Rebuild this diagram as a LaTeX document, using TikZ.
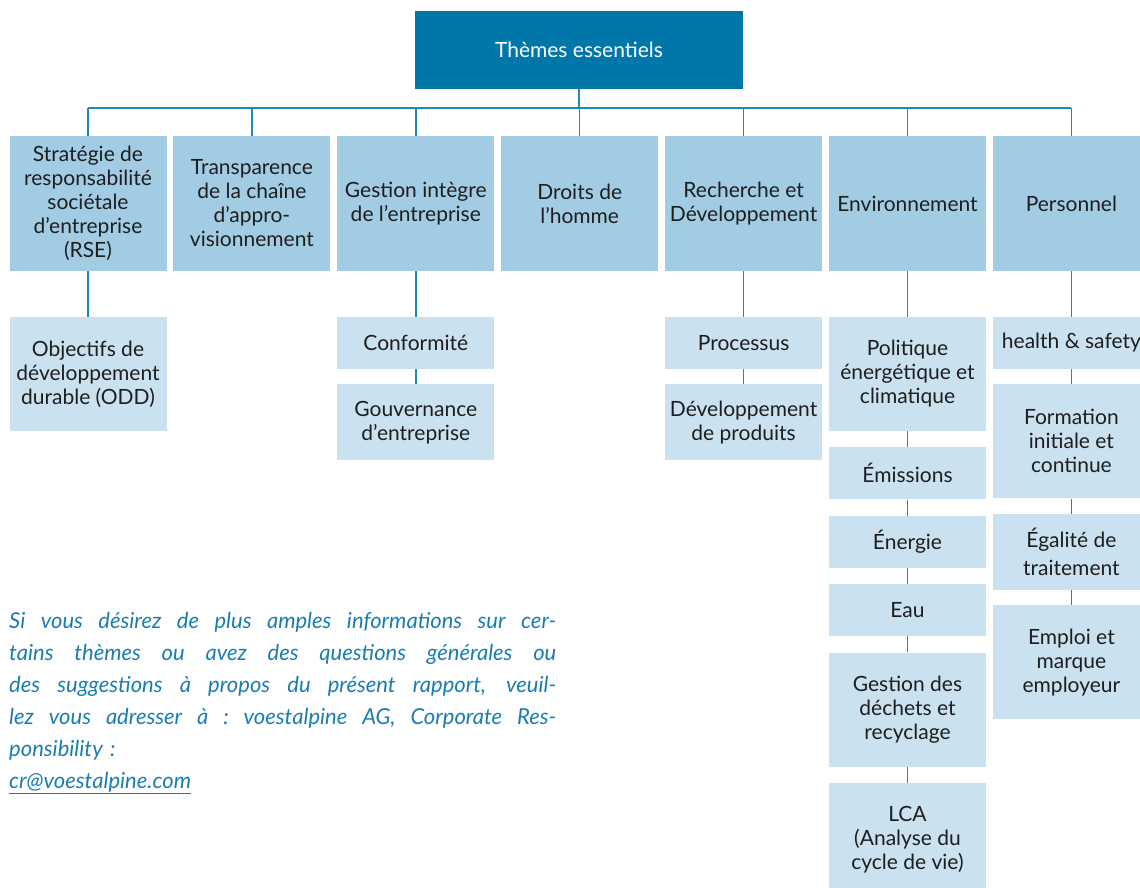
\documentclass[tikz,border=0pt]{standalone}
\usepackage{fontspec}
\setmainfont{Lato}
\usetikzlibrary{positioning}

\definecolor{vaBlue}{HTML}{0077A8}
\definecolor{vaTier}{HTML}{A2CCE3}
\definecolor{vaSub}{HTML}{CAE1EF}
\definecolor{vaLine}{HTML}{1F88C0}
\definecolor{vaText}{HTML}{1E1E1E}
\definecolor{vaNote}{HTML}{1A7DB0}

% one justified line of the contact note
\newcommand{\noteline}[1]{\makebox[547pt][s]{\spaceskip=.25em plus 1fil\xspaceskip=.25em plus 1fil\relax #1}}

\tikzset{
  box/.style = {inner sep=0pt, minimum width=157pt, align=center, text=vaText,
      font=\fontsize{21}{24}\selectfont},
  tier/.style = {box, fill=vaTier, minimum height=134pt},
  subS/.style = {box, fill=vaSub, minimum height=52pt},
  subM/.style = {box, fill=vaSub, minimum height=76pt},
  subL/.style = {box, fill=vaSub, minimum height=114pt},
  link/.style = {draw=vaLine, line width=1.5pt},
}

\begin{document}
\begin{tikzpicture}[x=1pt, y=1pt, node distance=15pt]
    \useasboundingbox (0,0) rectangle (1140,-888);
    \clip (0,0) rectangle (1140,-888);

    % root
    \node[fill=vaBlue, minimum width=328pt, minimum height=78pt, inner sep=0pt,
        text=white, font=\fontsize{21}{24}\selectfont] (top) at (579,-50) {Thèmes essentiels};

    % first level
    \node[tier] (rse) at (88,-203.5) {Stratégie de\\responsabilité\\sociétale\\d’entreprise\\(RSE)};
    \node[tier, right=6.5pt of rse] (supply) {Transparence\\de la chaîne\\d’appro-\\visionnement};
    \node[tier, right=6.5pt of supply] (gov) {Gestion intègre\\de l’entreprise};
    \node[tier, right=6.5pt of gov] (rights) {Droits de\\l’homme};
    \node[tier, right=6.5pt of rights] (rnd) {Recherche et\\Développement};
    \node[tier, right=6.5pt of rnd] (env) {Environnement};
    \node[tier, right=6.5pt of env] (staff) {Personnel};

    \coordinate (bus) at (0,-108);
    \draw[link] (top.south) -- (top.south |- bus);
    \draw[link] (rse.north |- bus) -- (staff.north |- bus);
    \foreach \n in {rse,supply,gov,rights,rnd,env,staff}
        \draw[link] (\n.north) -- (\n.north |- bus);

    % second level
    \node[subL, below=46pt of rse] (odd) {Objectifs de\\développement\\durable (ODD)};

    \node[subS, below=46pt of gov] (conf) {Conformité};
    \node[subM, below=of conf] (gouv) {Gouvernance\\d’entreprise};

    \node[subS, below=46pt of rnd] (proc) {Processus};
    \node[subM, below=of proc] (prod) {Développement\\de produits};

    \node[subL, below=46pt of env] (clim) {Politique\\énergétique et\\climatique};
    \node[subS, below=16pt of clim] (emis) {Émissions};
    \node[subS, below=16pt of emis] (nrg) {Énergie};
    \node[subS, below=16pt of nrg] (water) {Eau};
    \node[subL, below=16pt of water] (waste) {Gestion des\\déchets et\\recyclage};
    \node[subL, below=16pt of waste] (lca) {LCA\\(Analyse du\\cycle de vie)};

    \node[subS, below=46pt of staff] (hs) {health \& safety};
    \node[subL, below=of hs] (train) {Formation\\initiale et\\continue};
    \node[subM, below=of train] (equal) {Égalité de\\[4pt]traitement};
    \node[subL, below=of equal] (brand) {Emploi et\\marque\\employeur};

    \foreach \a/\b in {rse/odd, gov/conf, conf/gouv, rnd/proc, proc/prod,
        env/clim, clim/emis, emis/nrg, nrg/water, water/waste, waste/lca,
        staff/hs, hs/train, train/equal, equal/brand}
        \draw[link] (\a.south) -- (\b.north);

    % contact note
    \node[anchor=north west, inner sep=0pt, text width=547pt, align=left, text=vaNote,
        font=\fontsize{22}{32}\selectfont\itshape] (note) at (9,-612)
        {\noteline{Si vous désirez de plus amples informations sur cer-}\\
         \noteline{tains thèmes ou avez des questions générales ou}\\
         \noteline{des suggestions à propos du présent rapport, veuil-}\\
         \noteline{lez vous adresser à : voestalpine AG, Corporate Res-}\\
         ponsibility :\\
         \underline{cr@voestalpine.com}};
\end{tikzpicture}
\end{document}
